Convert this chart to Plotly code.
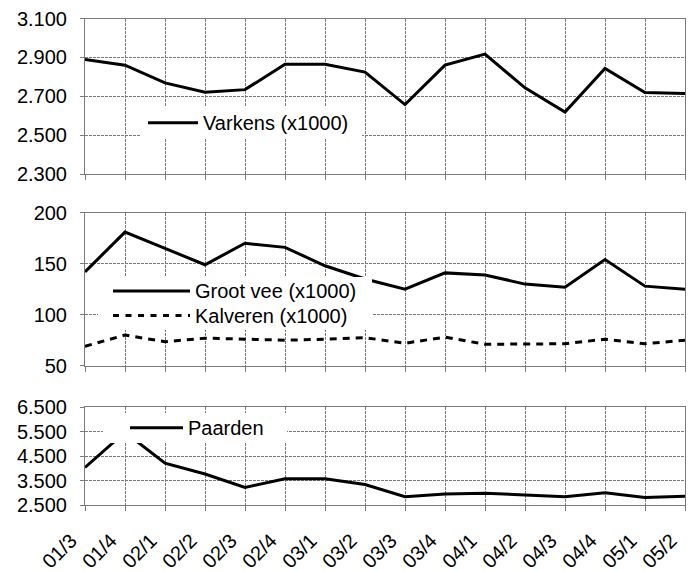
import plotly.graph_objects as go

# ---------------- data ----------------
quarters = ["01/3", "01/4", "02/1", "02/2", "02/3", "02/4", "03/1", "03/2",
            "03/3", "03/4", "04/1", "04/2", "04/3", "04/4", "05/1", "05/2"]

varkens = [2889, 2860, 2769, 2721, 2734, 2865, 2864, 2824,
           2657, 2860, 2917, 2743, 2619, 2843, 2719, 2714]
groot_vee = [142, 181, 165, 149, 170, 166, 148, 135,
             125, 141, 139, 130, 127, 154, 128, 125]
kalveren = [69, 80, 73.5, 77, 76, 75, 76, 77.5,
            72, 78, 71, 71, 71.5, 76, 71.5, 75]
paarden = [4040, 5480, 4210, 3770, 3220, 3570, 3570, 3340,
           2840, 2950, 2980, 2920, 2840, 3000, 2810, 2860]

varkens_ticks = [2300, 2500, 2700, 2900, 3100]
varkens_labels = ["2.300", "2.500", "2.700", "2.900", "3.100"]
vee_ticks = [50, 100, 150, 200]
vee_labels = ["50", "100", "150", "200"]
paarden_ticks = [2500, 3500, 4500, 5500, 6500]
paarden_labels = ["2.500", "3.500", "4.500", "5.500", "6.500"]

names = {"varkens": "Varkens (x1000)", "vee": "Groot vee (x1000)",
         "kalveren": "Kalveren (x1000)", "paarden": "Paarden"}

# ---------------- layout helpers ----------------
# the page body has an 8px margin, so the figure is sized to the rest of the window
OFF = 8
W, H = 696 - OFF, 571 - OFF
FONT = "Arial, Liberation Sans, sans-serif"
GRID = "#7a7a7a"


def px(x):
    return (x - OFF) / W


def py(y):
    return 1 - (y - OFF) / H


fig = go.Figure()
line_style = dict(color="black", width=3)
dash_style = dict(color="black", width=3, dash="7px,6px")

fig.add_trace(go.Scatter(x=quarters, y=varkens, mode="lines", line=line_style,
                         name=names["varkens"], xaxis="x", yaxis="y", showlegend=False))
fig.add_trace(go.Scatter(x=quarters, y=groot_vee, mode="lines", line=line_style,
                         name=names["vee"], xaxis="x2", yaxis="y2", showlegend=False))
fig.add_trace(go.Scatter(x=quarters, y=kalveren, mode="lines", line=dash_style,
                         name=names["kalveren"], xaxis="x2", yaxis="y2", showlegend=False))
fig.add_trace(go.Scatter(x=quarters, y=paarden, mode="lines", line=line_style,
                         name=names["paarden"], xaxis="x3", yaxis="y3", showlegend=False))

xdom = [px(85), px(685)]
xbase = dict(domain=xdom, type="category", range=[0, len(quarters) - 1],
             automargin=False, ticklabeloverflow="allow",
             showgrid=True, gridcolor=GRID, gridwidth=1, griddash="3px,1px",
             ticks="outside", ticklen=5, tickcolor=GRID,
             showline=True, linecolor=GRID, linewidth=1, mirror=True,
             zeroline=False, tickfont=dict(family=FONT, size=20, color="black"))
ybase = dict(showgrid=True, gridcolor=GRID, gridwidth=1, griddash="3px,1px",
             automargin=False, ticklabeloverflow="allow",
             ticks="outside", ticklen=4, tickcolor=GRID, ticklabelstandoff=9,
             showline=True, linecolor=GRID, linewidth=1, mirror=True,
             zeroline=False, tickfont=dict(family=FONT, size=20, color="black"))

fig.update_layout(
    width=W, height=H,
    margin=dict(l=0, r=0, t=0, b=0),
    paper_bgcolor="white", plot_bgcolor="white",
    font=dict(family=FONT, color="black"),
    showlegend=False,
    xaxis=dict(xbase, anchor="y", showticklabels=False),
    xaxis2=dict(xbase, anchor="y2", showticklabels=False),
    xaxis3=dict(xbase, anchor="y3", showticklabels=True, tickangle=-45,
                ticklabelstandoff=10, ticklabelshift=-14),
    yaxis=dict(ybase, domain=[py(174), py(18.5)], range=[2300, 3100],
               tickvals=varkens_ticks, ticktext=varkens_labels, anchor="x"),
    yaxis2=dict(ybase, domain=[py(365.7), py(212.7)], range=[50, 200],
                tickvals=vee_ticks, ticktext=vee_labels, anchor="x2"),
    yaxis3=dict(ybase, domain=[py(505), py(407.3)], range=[2500, 6500],
                tickvals=paarden_ticks, ticktext=paarden_labels, anchor="x3"),
)

# ---------------- in-plot legends (white boxes) ----------------
shapes = []
annotations = []


def legend_box(x0, y0, x1, y1):
    shapes.append(dict(type="rect", xref="paper", yref="paper", layer="above",
                       x0=px(x0), x1=px(x1), y0=py(y1), y1=py(y0),
                       fillcolor="white", line=dict(width=0)))


def legend_item(lx0, lx1, y, text, dash=None):
    ln = dict(color="black", width=3)
    if dash:
        ln["dash"] = dash
    shapes.append(dict(type="line", xref="paper", yref="paper", layer="above",
                       x0=px(lx0), x1=px(lx1), y0=py(y), y1=py(y), line=ln))
    annotations.append(dict(xref="paper", yref="paper", x=px(lx1 + 3), y=py(y),
                            text=text, showarrow=False, xanchor="left",
                            yanchor="middle", font=dict(family=FONT, size=20, color="black")))


legend_box(140, 106, 362, 139)
legend_item(148, 198, 122.7, names["varkens"])

legend_box(98, 277, 372, 330)
legend_item(113, 190, 291, names["vee"])
legend_item(113, 190, 315.5, names["kalveren"], dash="6px,6.5px")

legend_box(103, 413, 287, 443)
legend_item(130, 183, 427.7, names["paarden"])

fig.update_layout(shapes=shapes, annotations=annotations)

fig.write_html("out.html")
